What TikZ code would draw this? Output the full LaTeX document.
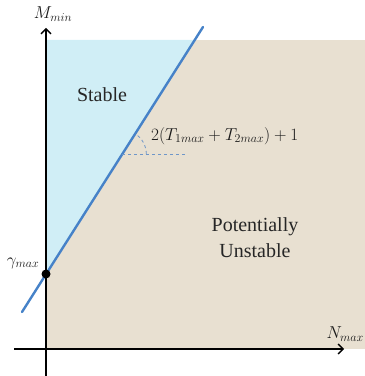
\documentclass[tikz,border=0pt]{standalone}
\usepackage{fontspec}
\setmainfont{Liberation Serif}
\usetikzlibrary{arrows.meta,calc}
\definecolor{stablefill}{RGB}{208,238,246}
\definecolor{unstablefill}{RGB}{232,224,209}
\definecolor{bline}{RGB}{70,130,200}
\definecolor{dashblue}{RGB}{110,150,200}
\tikzset{
  axis/.style={line width=1.4pt, -{Straight Barb[length=5pt,width=10pt,line width=1.4pt]}},
  regiontext/.style={font=\fontsize{20}{26}\selectfont, align=center, text=black!85},
  mathlabel/.style={font=\fontsize{17}{19}\selectfont, text=black!90, inner sep=1pt},
  guide/.style={dashed, dashblue, line width=0.8pt},
}
\begin{document}
\begin{tikzpicture}[x=1pt,y=1pt]
\useasboundingbox (0,0) rectangle (365,376);
% regions
\fill[unstablefill] (46,27) rectangle (365,336);
\coordinate (A) at (22,64);
\coordinate (B) at (203,349);
\coordinate (T) at (194.7,336);
\coordinate (G) at (46,102);
\coordinate (P) at (122.3,222);
\coordinate (Q) at (188,222);
\fill[stablefill] (46,336) -- (T) -- (G) -- cycle;
% axes
\coordinate (xs) at (14,27);
\coordinate (xe) at (344,27);
\coordinate (ys) at (46,0);
\coordinate (ye) at (46,348);
\draw[axis] (xs) -- (xe);
\draw[axis] (ys) -- (ye);
% boundary line
\draw[bline, line width=2.4pt, line cap=round] (A) -- (B);
\fill[black] (G) circle (4.5pt);
% angle guide
\draw[guide] (P) -- (Q);
\draw[guide] ($(P)+(24,0)$) arc[start angle=0, end angle=57.6, radius=24pt];
% labels
\node[regiontext] (st) at (102,281) {Stable};
\node[regiontext] (un) at (255,138) {Potentially\\Unstable};
\node[mathlabel, anchor=west] (sl) at (150,240) {$2(T_{1max}+T_{2max})+1$};
\node[mathlabel] (my) at (53,362) {$M_{min}$};
\node[mathlabel] (gm) at (23,113) {$\gamma_{max}$};
\node[mathlabel, anchor=east] (nx) at (365,42) {$N_{max}$};
\end{tikzpicture}
\end{document}
